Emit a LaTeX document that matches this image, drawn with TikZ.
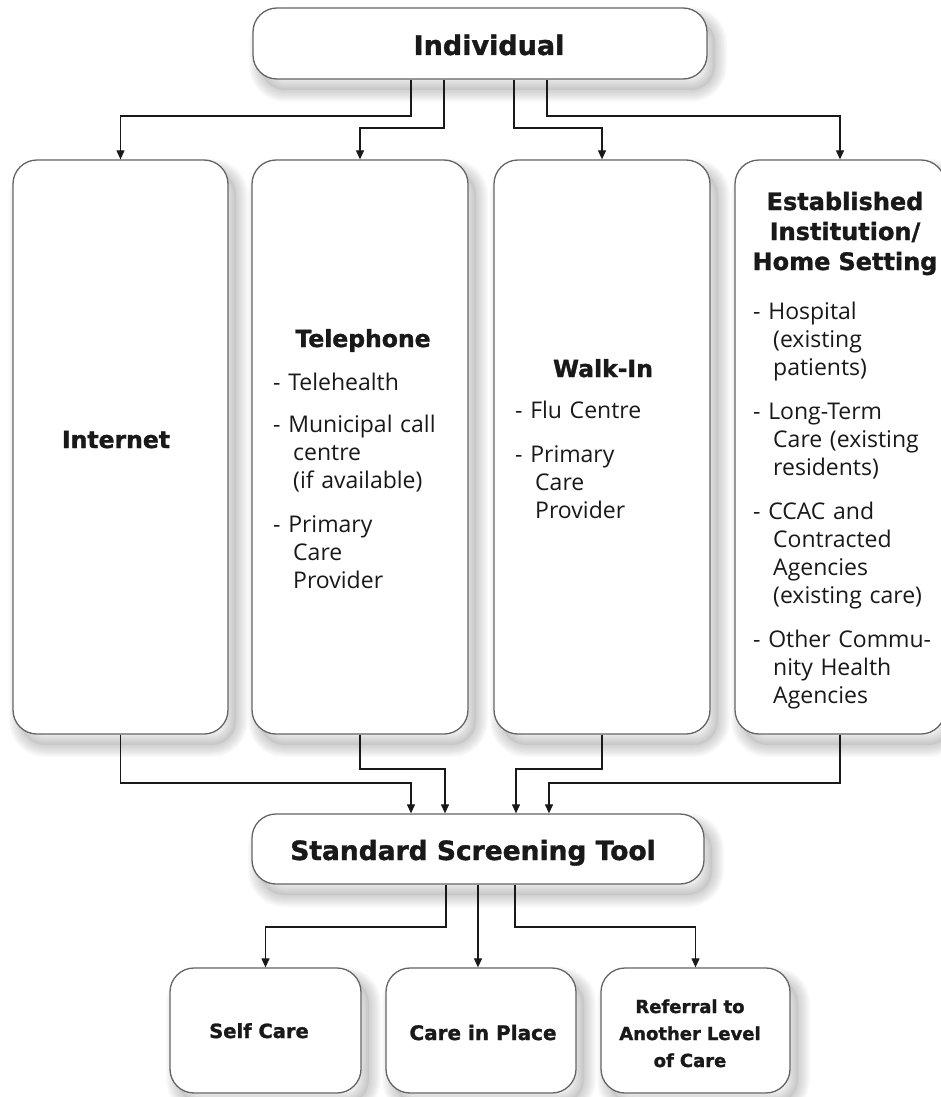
\documentclass[tikz,border=0pt]{standalone}
\usepackage{fontspec}
\setmainfont{Open Sans}
\newfontfamily\hdfont{DejaVu Sans}[BoldFeatures={FakeBold=1.3}]
\usetikzlibrary{shadows,arrows.meta,calc}
\definecolor{boxgray}{RGB}{100,100,100}
\definecolor{ink}{RGB}{25,25,25}
\begin{document}
\begin{tikzpicture}[x=1pt,y=-1pt,
  shl/.style={general shadow={shadow xshift=8pt, shadow yshift=-11pt, draw=black, line width=#1, opacity=0.022}},
  softshadow/.style={general shadow={shadow xshift=8pt, shadow yshift=-11pt, fill=black, opacity=0.05},
    shl=24pt, shl=21pt, shl=18pt, shl=15pt, shl=12pt, shl=9pt, shl=6pt, shl=3pt},
  box/.style={draw=boxgray, line width=1.3pt, fill=white, rounded corners=24pt, inner sep=0pt, softshadow},
  arr/.style={draw=ink, line width=1.2pt, -{Triangle[length=9pt,width=8pt]}},
  ttl/.style={font=\hdfont\bfseries\fontsize{23.5}{30}\selectfont, text=ink, inner sep=0pt, anchor=base},
  body/.style={font=\fontsize{23}{28}\selectfont, text=ink, inner sep=0pt, anchor=base west, text width=200pt, align=left},
]
\useasboundingbox (0,0) rectangle (940,1097);
\def\ind{\hspace*{20pt}}

% boxes
\node[box, minimum width=454pt, minimum height=71pt] (ind) at (480,43.5) {};
\node[box, minimum width=215pt, minimum height=574pt] (int) at (120.5,447) {};
\node[box, minimum width=216pt, minimum height=574pt] (tel) at (360,447) {};
\node[box, minimum width=216pt, minimum height=574pt] (walk) at (602,447) {};
\node[box, minimum width=210pt, minimum height=574pt] (est) at (840,447) {};
\node[box, minimum width=452pt, minimum height=70pt] (sst) at (478,849) {};
\node[box, minimum width=191pt, minimum height=125pt] (self) at (265.5,1030.5) {};
\node[box, minimum width=190pt, minimum height=125pt] (cip) at (481,1030.5) {};
\node[box, minimum width=189pt, minimum height=125pt] (ref) at (695.5,1030.5) {};

% texts
\node[ttl, font=\hdfont\bfseries\fontsize{27}{32}\selectfont] (indt) at (489,55) {Individual};
\node[ttl] (intt) at (116,448) {Internet};
\node[ttl] (telt) at (363,347) {Telephone};
\node[ttl] (walkt) at (603,377) {Walk-In};
\node[ttl, font=\hdfont\bfseries\fontsize{24}{30}\selectfont, text width=215pt, align=center] (estt) at (845,210) {Established\\Institution/\\Home Setting};
\node[ttl, font=\hdfont\bfseries\fontsize{26.5}{32}\selectfont] (sstt) at (473,860) {Standard Screening Tool};
\node[ttl, font=\hdfont\bfseries\fontsize{19.5}{27}\selectfont] (selft) at (259,1038) {Self Care};
\node[ttl, font=\hdfont\bfseries\fontsize{20}{27}\selectfont] (cipt) at (483,1040) {Care in Place};
\node[ttl, font=\hdfont\bfseries\fontsize{18}{27}\selectfont, text width=190pt, align=center] (reft) at (690,1013) {Referral to\\Another Level\\of Care};

\node[body] (telb) at (273,390) {- Telehealth\\[14pt]
- Municipal call\\ \ind centre\\ \ind (if available)\\[16pt]
- Primary\\ \ind Care\\ \ind Provider};
\node[body] (walkb) at (515,418) {- Flu Centre\\[16pt]
- Primary\\ \ind Care\\ \ind Provider};
\node[body, text width=190pt] (estb) at (753,319) {- Hospital\\ \ind (existing\\ \ind patients)\\[16pt]
- Long-Term\\ \ind Care (existing\\ \ind residents)\\[16pt]
- CCAC and\\ \ind Contracted\\ \ind Agencies\\ \ind (existing care)\\[16pt]
- Other Commu-\\ \ind nity Health\\ \ind Agencies};

% connector helper coordinates
\coordinate (t1) at ([xshift=-69pt]ind.south);
\coordinate (t2) at ([xshift=-36pt]ind.south);
\coordinate (t3) at ([xshift=34pt]ind.south);
\coordinate (t4) at ([xshift=67pt]ind.south);
\coordinate (h1) at (0,116);
\coordinate (h2) at (0,128);
\coordinate (s1) at ([xshift=-67pt]sst.north);
\coordinate (s2) at ([xshift=-33pt]sst.north);
\coordinate (s3) at ([xshift=38pt]sst.north);
\coordinate (s4) at ([xshift=71pt]sst.north);
\coordinate (h3) at (0,783);
\coordinate (h4) at (0,769);
\coordinate (u1) at ([xshift=-32pt]sst.south);
\coordinate (u3) at ([xshift=37pt]sst.south);
\coordinate (h5) at (0,927);

% connectors top
\draw[arr] (t1) |- (h1 -| int.north) -- (int.north);
\draw[arr] (t2) |- (h2 -| tel.north) -- (tel.north);
\draw[arr] (t3) |- (h2 -| walk.north) -- (walk.north);
\draw[arr] (t4) |- (h1 -| est.north) -- (est.north);
% connectors middle
\draw[arr] (int.south) |- (h3 -| s1) -- (s1);
\draw[arr] (tel.south) |- (h4 -| s2) -- (s2);
\draw[arr] (walk.south) |- (h4 -| s3) -- (s3);
\draw[arr] (est.south) |- (h3 -| s4) -- (s4);
% connectors bottom
\draw[arr] (u1) |- (h5 -| self.north) -- (self.north);
\draw[arr] (sst.south) -- (sst.south |- cip.north);
\draw[arr] (u3) |- (h5 -| ref.north) -- (ref.north);
\end{tikzpicture}
\end{document}
